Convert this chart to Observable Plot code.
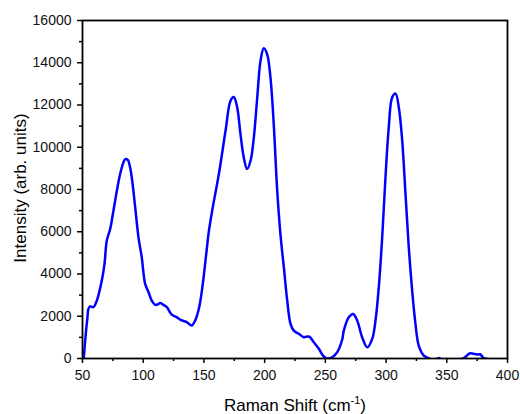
<!DOCTYPE html>
<html>
<head>
<meta charset="utf-8">
<script src="https://cdn.jsdelivr.net/npm/d3@7"></script>
<script src="https://cdn.jsdelivr.net/npm/@observablehq/plot@0.6"></script>
<style>
  html, body { margin: 0; padding: 0; background: #fff; }
  #chart svg { display: block; }
</style>
</head>
<body>
<div id="chart"></div>
<script>
// Raman shift (cm^-1) and intensity (arb. units)
const ramanShift = [
  51, 52.7, 54, 54.9, 56.3, 59, 61.8, 65.9, 68.1, 70, 72.8, 75.5, 78.3, 81, 83.5, 85.2, 87.3, 89, 90.6,
  93.4, 96.1, 98.8, 101.6, 104.4, 107, 109.9, 112, 114, 116.7, 119.4, 123.5, 127.7, 131.8, 135.9,
  138.5, 140, 142.8, 146, 149, 152, 154, 156.8, 162.3, 167.8, 171.9, 174.6, 177.4, 180.1, 182.8,
  185.6, 188.4, 191.1, 193.9, 196.6, 199.3, 202.1, 204.8, 207.5, 210.3, 213, 215.8, 218.6, 221.3,
  224, 228.1, 232.2, 236.4, 240.5, 244.6, 248.7, 251.5, 255.6, 259.8, 263.9, 265.2, 269.3, 272.9,
  276.2, 280.3, 284.5, 288.6, 291.3, 294, 296.8, 299.5, 302.2, 305, 307.8, 310.5, 313.3, 316,
  318.7, 321.5, 324.2, 326.9, 331.1, 335.2, 338, 341, 343.5, 346, 352, 358, 364, 368.1, 369.5,
  372, 375, 377.7, 380.4, 384.6, 386
];
const intensity = [
  0, 1170, 1900, 2350, 2470, 2430, 2740, 3690, 4470, 5580, 6130, 7000, 7940, 8730, 9250, 9440, 9406, 9100, 8570,
  7150, 5730, 4790, 3530, 3140, 2740, 2540, 2560, 2630, 2540, 2430, 2080, 1950, 1800, 1720,
  1600, 1560, 1800, 2400, 3500, 5000, 6000, 7000, 8730, 10780, 12200, 12380, 11880, 10620, 9520,
  8970, 9360, 10460, 12350, 14090, 14690, 14400, 13300, 11090, 8000, 5890, 4320, 2740, 1640,
  1320, 1170, 1010, 1040, 770, 460, 95, 0, 60, 300, 900, 1320, 1950, 2110,
  1800, 1010, 530, 930, 1800, 3370, 5730, 8570, 10930, 12350, 12540, 11880, 10300, 7790,
  5260, 3210, 1640, 615, 140, 15, -60, -40, 20, -60, -100, -80, 15, 220, 250,
  220, 190, 190, 15, -30, -40
];
const xMajorTicks = [50, 100, 150, 200, 250, 300, 350, 400];
const xMinorTicks = [75, 125, 175, 225, 275, 325, 375];
const yMajorTicks = [0, 2000, 4000, 6000, 8000, 10000, 12000, 14000, 16000];
const yMinorTicks = [1000, 3000, 5000, 7000, 9000, 11000, 13000, 15000];

const data = ramanShift.map((x, i) => ({x, y: intensity[i]}));

const font = "'Liberation Sans', Arial, sans-serif";

const chart = Plot.plot({
  width: 520,
  height: 414,
  marginLeft: 82,
  marginRight: 13,
  marginTop: 20,
  marginBottom: 56,
  style: {fontFamily: font, fontSize: "14px", color: "#000", background: "#fff"},
  x: {domain: [50, 400]},
  y: {domain: [0, 16000]},
  marks: [
    Plot.line(data, {x: "x", y: "y", stroke: "#0000ff", strokeWidth: 2.5, curve: "catmull-rom", clip: true}),
    Plot.frame({stroke: "#000", strokeWidth: 1.8}),
    Plot.axisX({ticks: xMajorTicks, tickSize: 5, tickPadding: 7, strokeWidth: 1.5, tickFormat: d => String(d), label: null, fontSize: 14, fill: "#111"}),
    Plot.axisX({ticks: xMinorTicks, tickSize: 3, strokeWidth: 1.5, tickFormat: null, text: null, label: null}),
    Plot.axisY({ticks: yMajorTicks, tickSize: 5, tickPadding: 6, strokeWidth: 1.5, tickFormat: d => String(d), label: null, fontSize: 14, fill: "#111"}),
    Plot.axisY({ticks: yMinorTicks, tickSize: 3, strokeWidth: 1.5, tickFormat: null, text: null, label: null})
  ]
});

document.getElementById("chart").appendChild(chart);

// Axis titles with superscript
const svg = d3.select(chart);
const xt = svg.append("text")
  .attr("x", 295).attr("y", 410.5)
  .attr("text-anchor", "middle")
  .attr("font-family", font).attr("font-size", 17).attr("fill", "#000");
xt.append("tspan").text("Raman Shift (cm");
xt.append("tspan").attr("font-size", 11).attr("dy", -7).text("-1");
xt.append("tspan").attr("dy", 7).text(")");

svg.append("text")
  .attr("transform", "translate(26,188) rotate(-90)")
  .attr("text-anchor", "middle")
  .attr("font-family", font).attr("font-size", 17).attr("fill", "#000")
  .text("Intensity (arb. units)");
</script>
</body>
</html>
